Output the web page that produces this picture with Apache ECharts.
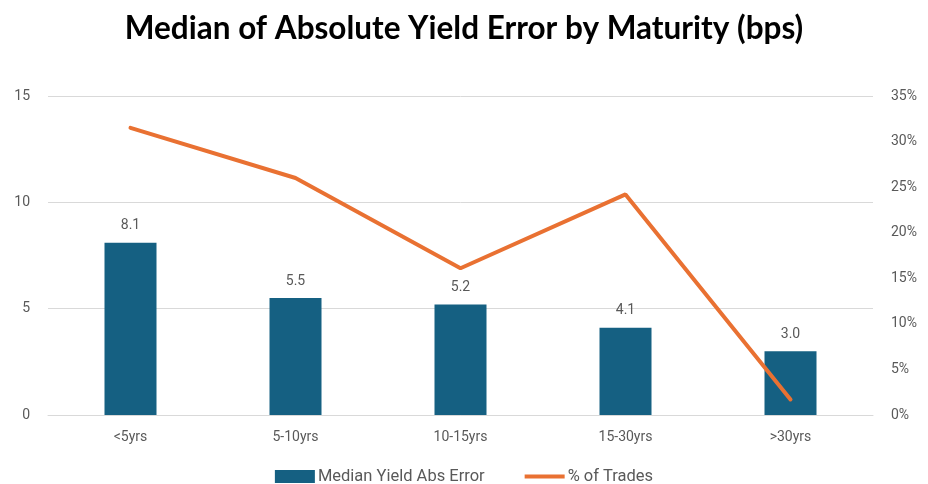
<!DOCTYPE html>
<html>
<head>
<meta charset="utf-8">
<script src="https://cdn.jsdelivr.net/npm/echarts@6/dist/echarts.min.js"></script>
<style>
  html, body { margin: 0; padding: 0; background: #fff; }
  #chart { width: 928px; height: 484px; }
</style>
</head>
<body>
<div id="chart"></div>
<script>
var categories = ['<5yrs', '5-10yrs', '10-15yrs', '15-30yrs', '>30yrs']
var yieldError = [8.1, 5.5, 5.2, 4.1, 3.0]
var pctTrades = [31.5, 26.0, 16.1, 24.2, 1.7]

var myChart = echarts.init(document.getElementById('chart'))
var textColor = '#595959'
var option = {
  title: {
    text: 'Median of Absolute Yield Error by Maturity (bps)',
    left: 'center',
    top: 8,
    textStyle: {
      fontFamily: 'Lato',
      fontWeight: 'bold',
      fontSize: 31.5,
      color: '#000'
    }
  },
  legend: {
    bottom: -6,
    left: 'center',
    itemGap: 40,
    itemWidth: 40,
    itemHeight: 13,
    textStyle: { color: textColor, fontSize: 16.5, fontFamily: 'Roboto', padding: [0, 0, 0, -2] },
    data: [
      { name: 'Median Yield Abs Error', icon: 'rect' },
      { name: '% of Trades', icon: 'path://M0,0 L40,0 L40,4 L0,4 Z' }
    ]
  },
  grid: {
    left: 48,
    right: 55,
    top: 96,
    bottom: 69
  },
  xAxis: {
    type: 'category',
    data: categories,
    axisLine: { lineStyle: { color: '#d9d9d9' } },
    axisTick: { show: false },
    axisLabel: { color: textColor, fontSize: 14, fontFamily: 'Roboto', margin: 15 }
  },
  yAxis: [
    {
      type: 'value',
      min: 0,
      max: 15,
      interval: 5,
      axisLine: { show: false },
      axisTick: { show: false },
      axisLabel: { color: textColor, fontSize: 14, fontFamily: 'Roboto', margin: 18 },
      splitLine: { lineStyle: { color: '#d9d9d9' } }
    },
    {
      type: 'value',
      min: 0,
      max: 35,
      interval: 5,
      axisLine: { show: false },
      axisTick: { show: false },
      splitLine: { show: false },
      axisLabel: { color: textColor, fontSize: 14, fontFamily: 'Roboto', margin: 18, formatter: '{value}%' }
    }
  ],
  series: [
    {
      name: 'Median Yield Abs Error',
      type: 'bar',
      data: yieldError,
      barWidth: 52,
      itemStyle: { color: '#156082' },
      label: {
        show: true,
        position: 'top',
        distance: 10,
        color: textColor,
        fontSize: 14,
        fontFamily: 'Roboto',
        formatter: function (p) { return p.value.toFixed(1) }
      }
    },
    {
      name: '% of Trades',
      type: 'line',
      yAxisIndex: 1,
      data: pctTrades,
      showSymbol: false,
      symbol: 'none',
      lineStyle: { color: '#E97132', width: 4, cap: 'round' },
      itemStyle: { color: '#E97132' }
    }
  ]
}
option && myChart.setOption(option)
</script>
</body>
</html>
